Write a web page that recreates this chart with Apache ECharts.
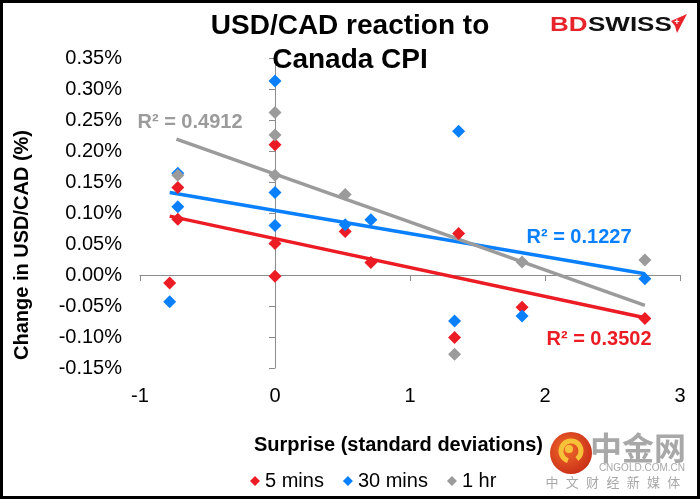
<!DOCTYPE html>
<html>
<head>
<meta charset="utf-8">
<script src="https://cdn.jsdelivr.net/npm/echarts@6/dist/echarts.min.js"></script>
<style>
  html, body { margin: 0; padding: 0; background: #fff; }
  #chart { width: 700px; height: 499px; }
</style>
</head>
<body>
<div id="chart"></div>
<script>
// surprise in standard deviations (x) and USD/CAD change in % (y)
const surprise5 = [-0.78, -0.72, -0.72, 0, 0, 0, 0.52, 0.71, 1.36, 1.33, 1.83, 2.74];
const move5 = [-0.013, 0.141, 0.090, 0.210, 0.051, -0.002, 0.070, 0.020, 0.067, -0.101, -0.052, -0.070];

const surprise30 = [-0.78, -0.72, -0.72, 0, 0, 0, 0.52, 0.71, 1.36, 1.33, 1.83, 2.74];
const move30 = [-0.043, 0.164, 0.110, 0.313, 0.133, 0.080, 0.081, 0.089, 0.232, -0.074, -0.066, -0.006];

const surprise1h = [-0.72, 0, 0, 0, 0.52, 1.33, 1.83, 2.74];
const move1h = [0.161, 0.262, 0.226, 0.161, 0.130, -0.128, 0.021, 0.024];

// linear trendline end points
const trendX5 = [-0.78, 2.74];
const trendY5 = [0.095, -0.069];
const trendX30 = [-0.78, 2.74];
const trendY30 = [0.133, 0.002];
const trendX1h = [-0.73, 2.74];
const trendY1h = [0.219, -0.049];

const seriesNames = ["5 mins", "30 mins", "1 hr"];
const r2Labels = ["R² = 0.3502", "R² = 0.1227", "R² = 0.4912"];
const mediaChars = ["中", "文", "财", "经", "新", "媒", "体"];

const RED = "#ec1c24";
const BLUE = "#0a80ff";
const GRAY = "#9b9b9b";
const FONT = "'Liberation Sans', Arial, sans-serif";
const CJK = "'Noto Sans CJK SC', sans-serif";

const zip = (xs, ys) => xs.map((x, i) => [x, ys[i]]);

const chart = echarts.init(document.getElementById("chart"));

const scatter = (name, xs, ys, color) => ({
  name: name,
  type: "scatter",
  symbol: "diamond",
  symbolSize: [13, 13],
  itemStyle: { color: color, opacity: 1 },
  data: zip(xs, ys),
  z: 3,
});

const trend = (xs, ys, color) => ({
  type: "line",
  data: zip(xs, ys),
  showSymbol: false,
  silent: true,
  lineStyle: { color: color, width: 3.5 },
  z: 2,
});

const option = {
  animation: false,
  backgroundColor: "#fff",
  textStyle: { fontFamily: FONT },
  title: {
    text: "USD/CAD reaction to\nCanada CPI",
    left: "center",
    top: 4,
    textStyle: {
      fontFamily: FONT,
      fontSize: 28,
      fontWeight: "bold",
      color: "#000",
      lineHeight: 34,
    },
  },
  grid: { left: 140, right: 20, top: 58, bottom: 131 },
  legend: {
    data: seriesNames,
    icon: "diamond",
    left: 245,
    top: 466,
    itemWidth: 10,
    itemHeight: 10,
    itemGap: 19,
    textStyle: { fontFamily: FONT, fontSize: 20, color: "#000" },
  },
  xAxis: [
    {
      type: "value",
      min: -1,
      max: 3,
      interval: 1,
      axisLine: { onZero: true, onZeroAxisIndex: 0, lineStyle: { color: "#8c8c8c", width: 1 } },
      axisTick: { show: true, length: 6, lineStyle: { color: "#8c8c8c" } },
      axisLabel: { show: false },
      splitLine: { show: false },
    },
    {
      type: "value",
      min: -1,
      max: 3,
      interval: 1,
      position: "bottom",
      axisLine: { show: false, onZero: false },
      axisTick: { show: false },
      axisLabel: { show: true, margin: 18, fontSize: 20, color: "#000", fontFamily: FONT },
      splitLine: { show: false },
    },
  ],
  yAxis: [
    {
      type: "value",
      min: -0.15,
      max: 0.35,
      interval: 0.05,
      axisLine: { show: true, onZero: true, onZeroAxisIndex: 0, lineStyle: { color: "#8c8c8c", width: 1 } },
      axisTick: { show: true, length: 6, lineStyle: { color: "#8c8c8c" } },
      axisLabel: { show: false },
      splitLine: { show: false },
    },
    {
      type: "value",
      min: -0.15,
      max: 0.35,
      interval: 0.05,
      position: "left",
      axisLine: { show: false, onZero: false },
      axisTick: { show: false },
      axisLabel: {
        show: true,
        margin: 18,
        fontSize: 20,
        color: "#000",
        fontFamily: FONT,
        formatter: (v) => v.toFixed(2) + "%",
      },
      splitLine: { show: false },
    },
  ],
  series: [
    trend(trendX5, trendY5, RED),
    trend(trendX30, trendY30, BLUE),
    trend(trendX1h, trendY1h, GRAY),
    scatter(seriesNames[0], surprise5, move5, RED),
    scatter(seriesNames[1], surprise30, move30, BLUE),
    scatter(seriesNames[2], surprise1h, move1h, GRAY),
  ],
  graphic: [
    // outer frame
    {
      type: "rect",
      shape: { x: 1.5, y: 1.5, width: 697, height: 496 },
      style: { fill: null, stroke: "#000", lineWidth: 3 },
      z: 100,
    },
    // axis titles
    {
      type: "text",
      x: 22,
      y: 245,
      rotation: Math.PI / 2,
      style: {
        text: "Change in USD/CAD (%)",
        font: "bold 20px " + FONT,
        fill: "#000",
        align: "center",
        verticalAlign: "middle",
      },
    },
    {
      type: "text",
      x: 254,
      y: 445,
      style: {
        text: "Surprise (standard deviations)",
        font: "bold 20px " + FONT,
        fill: "#000",
        align: "left",
        verticalAlign: "middle",
      },
      z: 5,
    },
    // R² labels
    {
      type: "text", x: 599, y: 339,
      style: { text: r2Labels[0], font: "bold 20px " + FONT, fill: RED, align: "center", verticalAlign: "middle" },
      z: 10,
    },
    {
      type: "text", x: 579, y: 237,
      style: { text: r2Labels[1], font: "bold 20px " + FONT, fill: BLUE, align: "center", verticalAlign: "middle" },
      z: 10,
    },
    {
      type: "text", x: 190, y: 122,
      style: { text: r2Labels[2], font: "bold 20px " + FONT, fill: GRAY, align: "center", verticalAlign: "middle" },
      z: 10,
    },
    // BDSWISS logo
    {
      type: "text", x: 550, y: 25, scaleX: 1.3,
      style: { text: "BD", font: "900 20px " + FONT, fill: "#e8242b", align: "left", verticalAlign: "middle" },
      z: 10,
    },
    {
      type: "text", x: 588, y: 25, scaleX: 1.3,
      style: { text: "SWISS", font: "900 20px " + FONT, fill: "#111", align: "left", verticalAlign: "middle" },
      z: 10,
    },
    {
      type: "polygon",
      shape: { points: [[671, 21], [687, 14], [677, 33], [675, 26]] },
      style: { fill: "#e8242b" },
      z: 10,
    },
    {
      type: "text", x: 677, y: 23,
      style: { text: "+", font: "bold 9px " + FONT, fill: "#fff", align: "center", verticalAlign: "middle" },
      z: 11,
    },
    // watermark
    {
      type: "circle",
      shape: { cx: 571, cy: 453, r: 21 },
      style: {
        fill: new echarts.graphic.RadialGradient(0.4, 0.4, 0.7, [
          { offset: 0, color: "#f06a2a" },
          { offset: 1, color: "#c62a16" },
        ]),
      },
      z: 20,
    },
    {
      type: "arc",
      shape: { cx: 571, cy: 451, r: 10, startAngle: Math.PI * 0.6, endAngle: Math.PI * 2.3 },
      style: { stroke: "#f6c23a", lineWidth: 5, fill: null },
      z: 21,
    },
    {
      type: "circle",
      shape: { cx: 569, cy: 449, r: 4 },
      style: { fill: "#f6c23a" },
      z: 21,
    },
    {
      type: "text", x: 590, y: 448,
      style: { text: "中金网", font: "bold 32px " + CJK, fill: "#a8a8a8", align: "left", verticalAlign: "middle" },
      z: 20,
    },
    {
      type: "text", x: 685, y: 468,
      style: { text: "CNGOLD.COM.CN", font: "10px " + FONT, fill: "#a8a8a8", align: "right", verticalAlign: "middle" },
      z: 20,
    },
  ].concat(
    mediaChars.map((ch, i) => ({
      type: "text",
      x: 552 + i * 20.3,
      y: 482,
      style: { text: ch, font: "13px " + CJK, fill: "#a8a8a8", align: "center", verticalAlign: "middle" },
      z: 20,
    }))
  ),
};

chart.setOption(option);
</script>
</body>
</html>
